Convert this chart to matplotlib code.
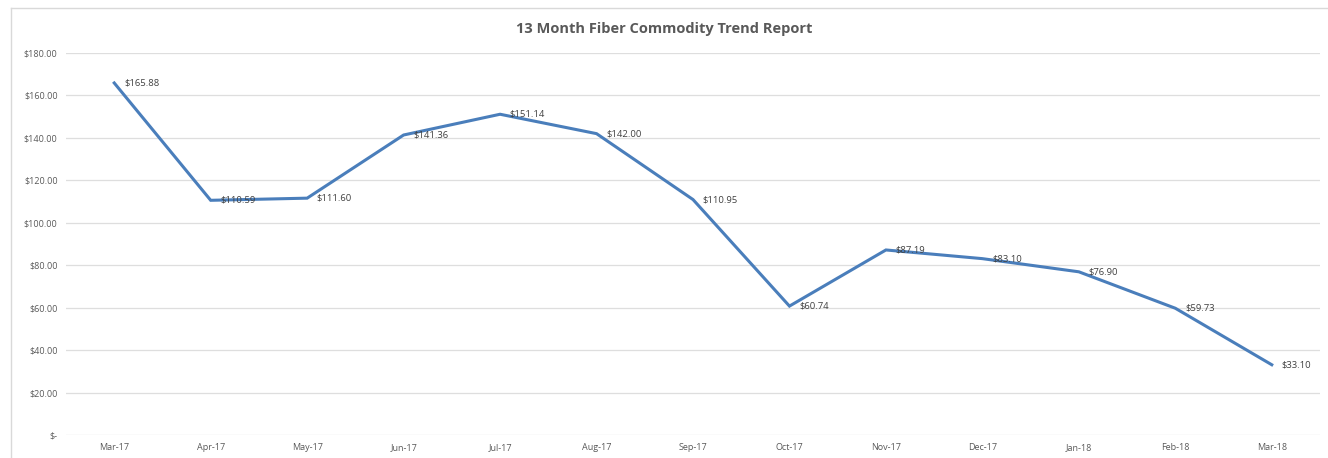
import matplotlib.pyplot as plt
from matplotlib.lines import Line2D

months = ['Mar-17', 'Apr-17', 'May-17', 'Jun-17', 'Jul-17', 'Aug-17', 'Sep-17',
          'Oct-17', 'Nov-17', 'Dec-17', 'Jan-18', 'Feb-18', 'Mar-18']
prices = [165.88, 110.59, 111.60, 141.36, 151.14, 142.00, 110.95,
          60.74, 87.19, 83.10, 76.90, 59.73, 33.10]
yticks = [0, 20, 40, 60, 80, 100, 120, 140, 160, 180]
ytick_labels = ['$-', '$20.00', '$40.00', '$60.00', '$80.00', '$100.00',
                '$120.00', '$140.00', '$160.00', '$180.00']

plt.rcParams['font.family'] = ['Open Sans', 'DejaVu Sans']
txt = '#595959'

fig = plt.figure(figsize=(13.28, 4.58), dpi=100)
# chart frame: only the left and top edges show in the picture
bx, by = 10.5 / 1328, 1 - 7.5 / 458
fig.add_artist(Line2D([bx, bx], [0, by], transform=fig.transFigure, color='#d9d9d9', linewidth=1))
fig.add_artist(Line2D([bx, 1], [by, by], transform=fig.transFigure, color='#d9d9d9', linewidth=1))

ax = fig.add_axes([66 / 1328, 1 - 435 / 458, (1320 - 66) / 1328, (435 - 53) / 458])

x = list(range(len(months)))
ax.plot(x, prices, color='#4a7ebb', linewidth=2.2, solid_joinstyle='miter')
for xi, yi in zip(x, prices):
    ax.annotate('$%.2f' % yi, (xi, yi), xytext=(7, 0), textcoords='offset points',
                va='center', ha='left', fontsize=6.8, color='#404040')

ax.set_xlim(-0.5, len(months) - 0.5)
ax.set_ylim(0, 180)
ax.set_xticks(x)
ax.set_xticklabels(months)
ax.set_yticks(yticks)
ax.set_yticklabels(ytick_labels)
ax.tick_params(length=0, labelsize=6.5, labelcolor=txt, pad=6)
ax.grid(axis='y', color='#dedede', linewidth=0.9)
ax.set_axisbelow(True)
for s in ax.spines.values():
    s.set_visible(False)

fig.text(0.5, 1 - 29 / 458, '13 Month Fiber Commodity Trend Report', ha='center',
         va='center', fontsize=10.5, fontweight='bold', color=txt)

fig.savefig('out.png', dpi=100)
